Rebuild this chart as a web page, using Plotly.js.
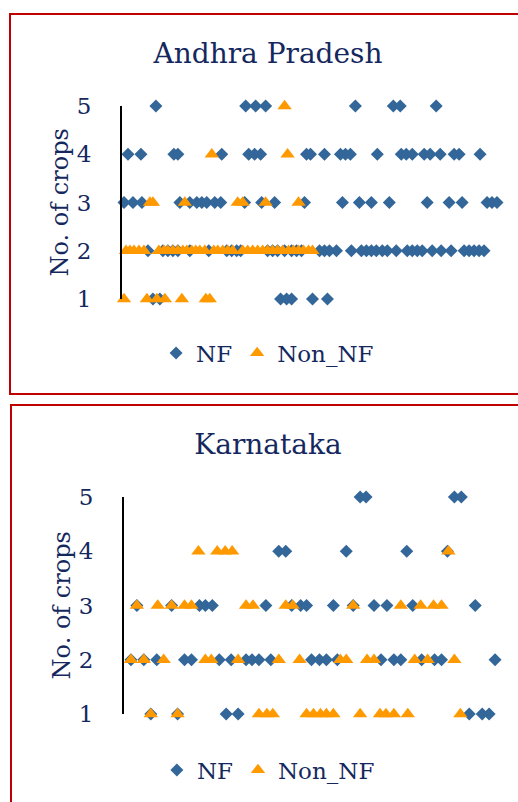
<!DOCTYPE html>
<html>
<head>
<meta charset="utf-8">
<script src="https://cdn.plot.ly/plotly-3.0.1.min.js"></script>
<style>
  html, body { margin: 0; padding: 0; width: 518px; height: 802px; overflow: hidden; background: #fff; }
  #ap { position: absolute; left: 0; top: 0; width: 518px; height: 395px; }
  #ka { position: absolute; left: 0; top: 395px; width: 518px; height: 407px; }
  .frame { position: absolute; border: 2px solid #c00000; box-sizing: border-box; pointer-events: none; }
</style>
</head>
<body>
<div id="ap"></div>
<div id="ka"></div>
<div class="frame" style="left:9px; top:13px; width:530px; height:382px;"></div>
<div class="frame" style="left:10px; top:404px; width:530px; height:420px;"></div>
<script>
// ---------- Andhra Pradesh ----------
const apNF_x = [
  8.5, 31, 33.5, 36, 58.5, 68, 69.75, 78.75,
  1.5, 4.75, 13, 14, 25, 31.75, 33.25, 34.75, 46.25, 47.25, 50.75, 54.75, 56, 57.25, 64, 70, 71.25, 72.75, 75.75, 77.25, 79.75, 83.25, 84.5, 89.75,
  0.5, 2.75, 5, 14.5, 17, 18.75, 20, 21.25, 23.25, 24.75, 30.75, 35, 38.25, 45.75, 55.25, 59.5, 62.5, 67, 76.5, 82, 85.25, 91.5, 92.75, 94,
  6.5, 10.25, 11.5, 12.75, 14, 17, 21.75, 26.25, 27.5, 28.75, 29.75, 36.5, 37.75, 39, 40.75, 42.5, 43.75, 45, 49.5, 50.75, 52, 53.75, 57.5, 60, 61.25, 62.5, 63.75, 65.25, 66.5, 68.75, 71.5, 72.75, 74, 75.25, 77.75, 80, 82.5, 85.75, 87, 88.25, 89.5, 90.75,
  7.75, 9.5, 39.75, 41.25, 42.5, 47.75, 51.5
];
const apNF_y = [
  5, 5, 5, 5, 5, 5, 5, 5,
  4, 4, 4, 4, 4, 4, 4, 4, 4, 4, 4, 4, 4, 4, 4, 4, 4, 4, 4, 4, 4, 4, 4, 4,
  3, 3, 3, 3, 3, 3, 3, 3, 3, 3, 3, 3, 3, 3, 3, 3, 3, 3, 3, 3, 3, 3, 3, 3,
  2, 2, 2, 2, 2, 2, 2, 2, 2, 2, 2, 2, 2, 2, 2, 2, 2, 2, 2, 2, 2, 2, 2, 2, 2, 2, 2, 2, 2, 2, 2, 2, 2, 2, 2, 2, 2, 2, 2, 2, 2, 2,
  1, 1, 1, 1, 1, 1, 1
];
const apNon_x = [
  40.75,
  22.5, 41.5,
  7, 7.75, 15.75, 29, 30.25, 36, 44.25,
  1, 2, 3, 4.25, 5.5, 9.25, 10.5, 11.5, 12.75, 14, 15.25, 16.25, 17.5, 18.5, 19.5, 20.75, 23, 24, 25.25, 26.5, 27.75, 30.25, 31.5, 32.75, 34, 35.25, 36.5, 37.75, 39, 40.25, 41.75, 43, 44.25, 45.5, 46.75, 47.75,
  0.5, 6.25, 8.75, 10.75, 15, 21, 22
];
const apNon_y = [
  5,
  4, 4,
  3, 3, 3, 3, 3, 3, 3,
  2, 2, 2, 2, 2, 2, 2, 2, 2, 2, 2, 2, 2, 2, 2, 2, 2, 2, 2, 2, 2, 2, 2, 2, 2, 2, 2, 2, 2, 2, 2, 2, 2, 2, 2, 2,
  1, 1, 1, 1, 1, 1, 1
];

// ---------- Karnataka ----------
const kaNF_x = [
  59.5, 61, 83.25, 85,
  39, 40.75, 56, 71.25, 81.5,
  3.25, 12, 19, 20.5, 22.25, 35.75, 42.25, 44.5, 46, 52.75, 57.75, 63, 66.25, 72.75, 88.5,
  1.75, 5, 8.25, 15.25, 17, 24, 27, 30.75, 32.25, 34, 37, 47.25, 49.25, 51, 53.75, 64.75, 68, 69.75, 75, 78.25, 80, 93.5,
  6.75, 13.5, 25.75, 28.75, 87, 90.25, 92
];
const kaNF_y = [
  5, 5, 5, 5,
  4, 4, 4, 4, 4,
  3, 3, 3, 3, 3, 3, 3, 3, 3, 3, 3, 3, 3, 3, 3,
  2, 2, 2, 2, 2, 2, 2, 2, 2, 2, 2, 2, 2, 2, 2, 2, 2, 2, 2, 2, 2, 2,
  1, 1, 1, 1, 1, 1, 1
];
const kaNon_x = [
  18.75, 23.5, 25.5, 27.25, 81.75,
  3.25, 8.5, 12, 15.25, 17, 30.75, 32.5, 40.75, 42.5, 57.75, 69.75, 74.75, 78, 80,
  1.75, 5, 10, 20.5, 22, 28.75, 39, 44.25, 54.5, 56, 61.25, 63, 73.25, 76.5, 83.25,
  6.75, 13.5, 34, 36, 37.5, 46, 47.75, 49.5, 51, 52.75, 59.5, 64.5, 66, 68, 71.5, 84.75
];
const kaNon_y = [
  4, 4, 4, 4, 4,
  3, 3, 3, 3, 3, 3, 3, 3, 3, 3, 3, 3, 3, 3,
  2, 2, 2, 2, 2, 2, 2, 2, 2, 2, 2, 2, 2, 2, 2,
  1, 1, 1, 1, 1, 1, 1, 1, 1, 1, 1, 1, 1, 1, 1, 1
];

const seriesNames = ['NF', 'Non_NF'];
const yTicks = [1, 2, 3, 4, 5];
const yTitle = 'No. of crops';

const FONT = 'DejaVu Serif, serif';
const TXT = '#15285E';
const BLUE = '#336699';
const ORANGE = '#FF9900';

function traces(nx, ny, ox, oy) {
  return [
    { type: 'scatter', mode: 'markers', name: seriesNames[0], x: nx, y: ny, cliponaxis: false,
      marker: { symbol: 'diamond', size: 10, color: BLUE } },
    { type: 'scatter', mode: 'markers', name: seriesNames[1], x: ox, y: oy, cliponaxis: false,
      marker: { symbol: 'triangle-up', size: 12.5, color: ORANGE } }
  ];
}

function layout(opts) {
  return {
    width: 518, height: opts.h,
    margin: { l: opts.l, r: 13, t: opts.t, b: opts.b, pad: 0 },
    paper_bgcolor: 'rgba(0,0,0,0)', plot_bgcolor: 'rgba(0,0,0,0)',
    showlegend: true,
    title: { text: opts.title, font: { family: FONT, size: 28, color: TXT },
             xref: 'container', x: 268 / 518, xanchor: 'center', y: opts.ty, yanchor: 'middle' },
    xaxis: { range: [0, 96], showline: false, showgrid: false, zeroline: false,
             showticklabels: false, ticks: '' },
    yaxis: { range: [1, 5], tickvals: yTicks, ticktext: yTicks.map(String), showline: true,
             linecolor: '#000', linewidth: 2, showgrid: false, zeroline: false, ticks: '',
             ticklabelstandoff: 24, tickfont: { family: FONT, size: 23, color: TXT } },
    legend: { orientation: 'h', x: opts.lx, xanchor: 'center', y: opts.ly, yanchor: 'middle',
              font: { family: FONT, size: 23, color: TXT }, bgcolor: 'rgba(0,0,0,0)' },
    annotations: [{ text: yTitle, textangle: -90, showarrow: false, xref: 'paper', yref: 'paper',
                    x: opts.ax, y: 0.5, xanchor: 'center', yanchor: 'middle',
                    font: { family: FONT, size: 24, color: TXT } }]
  };
}

const cfg = { staticPlot: true, displayModeBar: false };

Plotly.newPlot('ap', traces(apNF_x, apNF_y, apNon_x, apNon_y),
  layout({ h: 395, l: 122, t: 106, b: 96, title: 'Andhra Pradesh', ty: 1 - 53 / 395,
           lx: 0.38, ly: -0.28, ax: -0.162 }), cfg);

Plotly.newPlot('ka', traces(kaNF_x, kaNF_y, kaNon_x, kaNon_y),
  layout({ h: 407, l: 124, t: 102, b: 87, title: 'Karnataka', ty: 1 - 49 / 407,
           lx: 0.379, ly: -0.252, ax: -0.163 }), cfg);
</script>
</body>
</html>
